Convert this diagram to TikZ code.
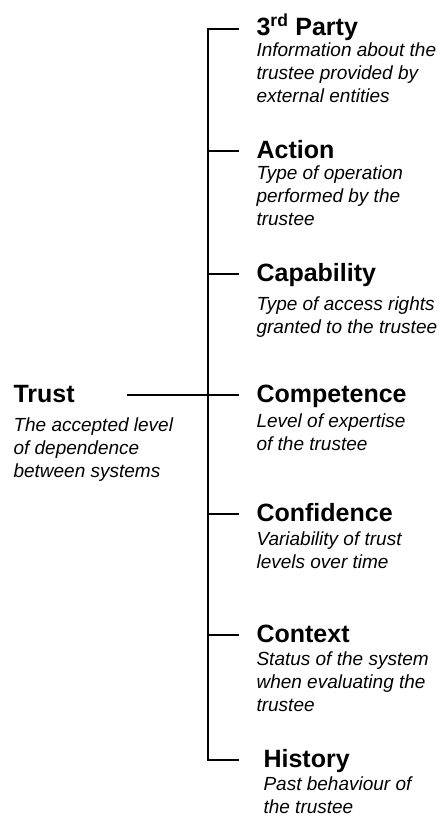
\documentclass[tikz,border=0pt]{standalone}
\usepackage{fontspec}
\setmainfont{Liberation Sans}
\usetikzlibrary{positioning}
\tikzset{>=latex}

\begin{document}
\begin{tikzpicture}[x=1pt, y=-1pt,
            title/.style={anchor=base west, inner sep=0pt, text height=18pt, text depth=4pt, font=\fontsize{25}{30}\selectfont\bfseries},
            desc/.style={anchor=north west, yshift=16.1pt, inner sep=0pt, align=left, font=\fontsize{19}{23}\selectfont\itshape, execute at begin node=\strut},
            branch/.style={shorten >=17pt},
            line width=1.1pt
        ]
        \useasboundingbox (0,0) rectangle (439,816);
        \node[title] (trust) at (13,402) {Trust};
        \node[desc] (trusttxt) at (13,433) {The accepted level\\of dependence\\between systems};
        \node[title] (party) at (256,36) {3\textsuperscript{rd} Party};
        \node[desc] (partytxt) at (256,58) {Information about the\\trustee provided by\\external entities};
        \node[title] (action) at (256,158) {Action};
        \node[desc] (actiontxt) at (256,181) {Type of operation\\performed by the\\trustee};
        \node[title] (capability) at (256,281) {Capability};
        \node[desc] (capabilitytxt) at (256,312) {Type of access rights\\granted to the trustee};
        \node[title] (competence) at (256,402) {Competence};
        \node[desc] (competencetxt) at (256,429) {Level of expertise\\of the trustee};
        \node[title] (confidence) at (256,521) {Confidence};
        \node[desc] (confidencetxt) at (256,547) {Variability of trust\\levels over time};
        \node[title] (context) at (256,642) {Context};
        \node[desc] (contexttxt) at (256,667) {Status of the system\\when evaluating the\\trustee};
        \node[title] (history) at (263,767) {History};
        \node[desc] (historytxt) at (263,792) {Past behaviour of\\the trustee};
        \coordinate (spine) at (208,0);
        \draw[shorten <=17pt, shorten >=24pt] (party.west) -- (spine |- party.west) -- (spine |- history.west) -- (history.west);
        \foreach \n in {action, capability, competence, confidence, context}
            \draw[branch] (spine |- \n.west) -- (\n.west);
        \draw[shorten <=52pt] (trust.east) -- (spine |- trust.east);
\end{tikzpicture}
\end{document}
